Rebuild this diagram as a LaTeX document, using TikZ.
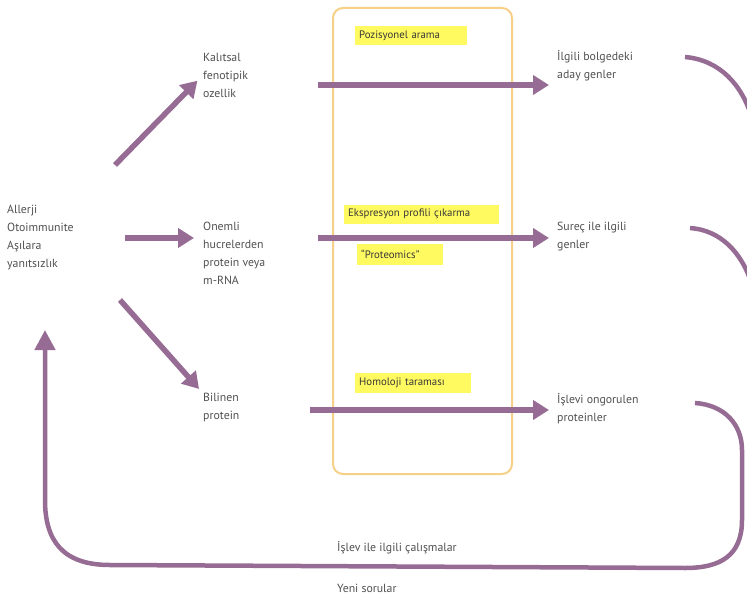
\documentclass[tikz,border=0pt]{standalone}
\usepackage{fontspec}
\setmainfont{PT Sans}
\usetikzlibrary{arrows.meta,positioning}
\definecolor{mor}{RGB}{150,108,148}
\definecolor{kutu}{RGB}{247,208,135}
\definecolor{vurgu}{RGB}{255,250,95}
\definecolor{yazi}{RGB}{80,80,80}
\tikzset{
  metin/.style={anchor=west, align=left, inner sep=0pt, text=yazi, font=\fontsize{11.8}{18}\selectfont},
  vurgulu/.style={anchor=west, fill=vurgu, inner xsep=4pt, inner ysep=0pt, minimum height=19pt, align=left, text=yazi!70!black, font=\fontsize{10.8}{13}\selectfont},
  okk/.style={draw=mor, line width=5.5pt, -{Triangle[length=16pt,width=19pt]}},
  donus/.style={draw=mor, line width=4.5pt},
}
\begin{document}
\begin{tikzpicture}[x=1pt,y=-1pt]
  \useasboundingbox (0,0) rectangle (747,599);
  %ortadaki kutu
  \draw[kutu, line width=2pt, rounded corners=10pt] (333,8) rectangle (512,474);

  %%%% yazilar
  \node[metin] (alerji) at (7,238) {Allerji\\Otoimmunite\\Aşılara\\yanıtsızlık};
  \node[metin] (kalitsal) at (203,75) {Kalıtsal\\fenotipik\\ozellik};
  \node[metin] (onemli) at (203,253) {Onemli\\hucrelerden\\protein veya\\m-RNA};
  \node[metin] (bilinen) at (203,408) {Bilinen\\protein};
  \node[metin] (aday) at (557,66) {İlgili bolgedeki\\aday genler};
  \node[metin] (surec) at (557,237) {Sureç ile ilgili\\genler};
  \node[metin] (islevi) at (557,409) {İşlevi ongorulen\\proteinler};
  \node[metin] (calisma) at (337,548) {İşlev ile ilgili çalışmalar};
  \node[metin] (yeni) at (337,588) {Yeni sorular};

  %sari etiketler
  \node[vurgulu, text width=104pt] (pozisyon) at (355,36) {Pozisyonel arama};
  \node[vurgulu, text width=147pt] (ekspresyon) at (344,214) {Ekspresyon profili çıkarma};
  \node[vurgulu, text width=78pt, minimum height=21pt] (proteomics) at (357,254) {``Proteomics''};
  \node[vurgulu, text width=108pt, minimum height=20pt] (homoloji) at (355,383) {Homoloji taraması};

  %%%% OKLAR!!!
  \coordinate (a1) at (115,165);
  \coordinate (a2) at (125,238);
  \coordinate (a3) at (120,300);
  \draw[okk, shorten >=8pt] (a1) -- (kalitsal.west);
  \draw[okk, shorten >=9pt] (a2) -- (a2 -| onemli.west);
  \draw[okk, shorten >=6pt] (a3) -- (bilinen.north west);

  \coordinate (b1) at (318,85);
  \coordinate (b2) at (318,238);
  \coordinate (b3) at (310,410);
  \draw[okk, shorten >=8pt] (b1) -- (b1 -| aday.west);
  \draw[okk, shorten >=8pt] (b2) -- (b2 -| surec.west);
  \draw[okk, shorten >=8pt] (b3) -- (b3 -| islevi.west);

  %donus oklari
  \coordinate (c1) at (685,57);
  \coordinate (c2) at (690,228);
  \coordinate (c3) at (695,403);
  \coordinate (d) at (45,330);
  \draw[donus] (c1) .. controls (720,60) and (742,85) .. (752,118);
  \draw[donus] (c2) .. controls (720,230) and (742,252) .. (752,285);
  \draw[donus, -{Triangle[length=20pt,width=20pt]}] (c3) .. controls (725,405) and (742,425) .. (742,450)
     -- (742,520) .. controls (742,556) and (720,568) .. (685,568)
     -- (110,565) .. controls (62,565) and (45,540) .. (45,500)
     -- (d);
\end{tikzpicture}
\end{document}
